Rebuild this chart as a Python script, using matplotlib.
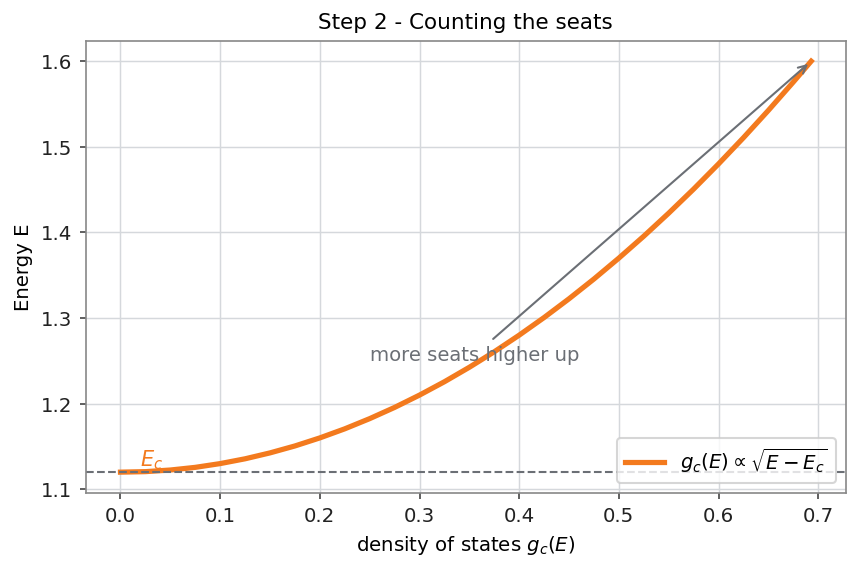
import matplotlib
matplotlib.use("Agg")
import matplotlib.pyplot as plt

# density of states (x) vs energy (y)
dos = [0.0, 0.025, 0.05, 0.075, 0.1, 0.125, 0.15, 0.175, 0.2, 0.225, 0.25,
       0.275, 0.3, 0.325, 0.35, 0.375, 0.4, 0.425, 0.45, 0.475, 0.5, 0.525,
       0.55, 0.575, 0.6, 0.625, 0.65, 0.675, 0.693]
energy = [1.1200, 1.1206, 1.1225, 1.1256, 1.1300, 1.1356, 1.1425, 1.1506,
          1.1600, 1.1706, 1.1825, 1.1956, 1.2100, 1.2256, 1.2425, 1.2606,
          1.2800, 1.3006, 1.3225, 1.3456, 1.3700, 1.3956, 1.4225, 1.4506,
          1.4800, 1.5106, 1.5425, 1.5756, 1.6000]
E_c = 1.12

orange = "#f37a1e"
grey = "#6b6f75"

fig, ax = plt.subplots(figsize=(5.73, 3.81), dpi=150)
fig.subplots_adjust(left=0.100, right=0.984, top=0.928, bottom=0.137)

ax.plot(dos, energy, color=orange, lw=2.5,
        label=r"$g_c(E) \propto \sqrt{E - E_c}$")
ax.axhline(E_c, color=grey, ls="--", lw=1)
ax.text(0.02, E_c + 0.007, r"$E_c$", color=orange, fontsize=10)

ax.annotate("more seats higher up", xy=(dos[-1], energy[-1]),
            xytext=(0.25, 1.25), color=grey, fontsize=9.4,
            arrowprops=dict(arrowstyle="->", color=grey, lw=1))

ax.set_title("Step 2 - Counting the seats", fontsize=10.3)
ax.set_xlabel(r"density of states $g_c(E)$", fontsize=9.5)
ax.set_ylabel("Energy E", fontsize=9.5)

ax.grid(True, color="#d5d8dc", lw=0.7)
ax.set_axisbelow(True)
for s in ax.spines.values():
    s.set_color("#888888")
ax.tick_params(colors="#222222", labelsize=9.5, direction="out", length=3,
               color="#444444")

ax.legend(loc="lower right", fontsize=9.5)

fig.savefig("out.png", dpi=150)
